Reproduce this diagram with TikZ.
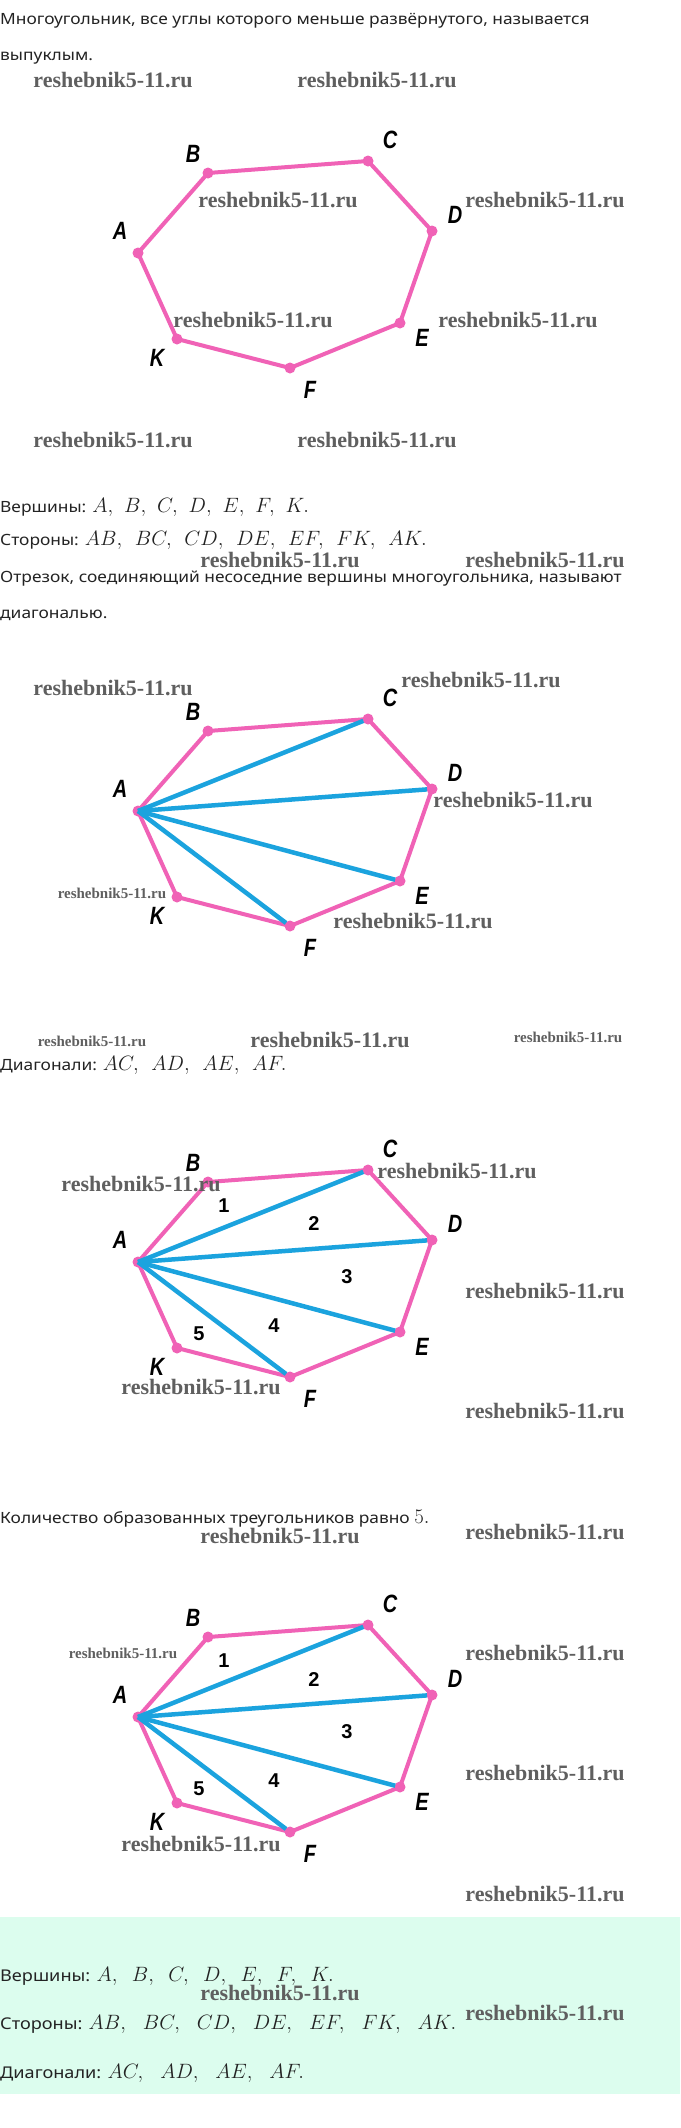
\documentclass[tikz,border=0pt]{standalone}
\usepackage{fontspec}
\setmainfont{Noto Sans}[FakeStretch=1.12]
\newfontfamily\wmfont{Liberation Serif}
\newfontfamily\labfont{Liberation Sans}
\definecolor{pinkc}{RGB}{240,98,182}
\definecolor{bluec}{RGB}{27,163,222}
\definecolor{mint}{RGB}{220,253,238}
\definecolor{wmgray}{RGB}{95,95,95}
\definecolor{txtc}{RGB}{35,35,35}
\newcommand\gpa{\mskip 6.5mu}
\newcommand\gpb{\mskip 8mu}
\newcommand\gpc{\mskip 9.5mu}
\newcommand\gpd{\mskip 11.7mu}
\newcommand\mth[2]{{\fontsize{#1}{#1}\selectfont$#2$}}
\newcommand\lb[1]{\scalebox{0.8}[1]{#1}}
\tikzset{
 txt/.style={anchor=base west, inner sep=0pt, text=txtc, font=\fontsize{15.5}{18}\selectfont},
 txtb/.style={anchor=base west, inner sep=0pt, text=txtc, font=\fontsize{16.2}{18}\selectfont},
 wm/.style={anchor=base, inner sep=0pt, text=wmgray, font=\wmfont\bfseries\fontsize{22}{22}\selectfont},
 wms/.style={anchor=base, inner sep=0pt, text=wmgray, font=\wmfont\bfseries\fontsize{15}{15}\selectfont},
 side/.style={draw=pinkc, line width=4pt, line join=round},
 diag/.style={draw=bluec, line width=4.5pt, shorten >=5pt},
 vdot/.style={fill=pinkc},
 lab/.style={inner sep=0pt, font=\labfont\bfseries\itshape\fontsize{25}{25}\selectfont},
 num/.style={inner sep=0pt, font=\labfont\bfseries\fontsize{20}{20}\selectfont},
}
\newcommand\poly[2]{%
\begin{scope}[yshift=-#2pt]
 \coordinate (#1A) at (138,253);
 \coordinate (#1B) at (208,173);
 \coordinate (#1C) at (368,161);
 \coordinate (#1D) at (432,231);
 \coordinate (#1E) at (400,323);
 \coordinate (#1F) at (290,368);
 \coordinate (#1K) at (177,339);
 \node[lab] (#1lA) at (120,231) {\lb{A}};
 \node[lab] (#1lB) at (193,154) {\lb{B}};
 \node[lab] (#1lC) at (390,140) {\lb{C}};
 \node[lab] (#1lD) at (455,215) {\lb{D}};
 \node[lab] (#1lE) at (422,338) {\lb{E}};
 \node[lab] (#1lF) at (310,390) {\lb{F}};
 \node[lab] (#1lK) at (157,358) {\lb{K}};
\end{scope}
\draw[side] (#1A) -- (#1B) -- (#1C) -- (#1D) -- (#1E) -- (#1F) -- (#1K) -- cycle;
\foreach \v in {A,B,C,D,E,F,K} \fill[vdot] (#1\v) circle (5.5pt);
}
\newcommand\diags[1]{%
\draw[diag] (#1A) -- (#1C);
\draw[diag] (#1A) -- (#1D);
\draw[diag] (#1A) -- (#1E);
\draw[diag] (#1A) -- (#1F);
}
\newcommand\nums[2]{%
\begin{scope}[yshift=-#2pt]
 \node[num] (#1n1) at (224,197) {1};
 \node[num] (#1n2) at (314,215) {2};
 \node[num] (#1n3) at (347,268) {3};
 \node[num] (#1n4) at (274,317) {4};
 \node[num] (#1n5) at (199,325) {5};
\end{scope}}
\begin{document}
\begin{tikzpicture}[x=1pt,y=-1pt]
\useasboundingbox (0,0) rectangle (680,2128);
\fill[white] (0,0) rectangle (680,2128);
\fill[mint] (0,1917) rectangle (680,2094);

% texts
\node[txt] (t1) at (0,24) {Многоугольник, все углы которого меньше развёрнутого, называется};
\node[txt] (t2) at (0,60) {выпуклым.};
\node[txt] (t3) at (0,512) {Вершины: \mth{19.5}{A,\gpa B,\gpa C,\gpa D,\gpa E,\gpa F,\gpa K.}};
\node[txt] (t4) at (0,545) {Стороны: \mth{19.5}{AB,\gpb BC,\gpb CD,\gpb DE,\gpb EF,\gpb FK,\gpb AK.}};
\node[txt] (t5) at (0,582) {Отрезок, соединяющий несоседние вершины многоугольника, называют};
\node[txt] (t6) at (0,618) {диагональю.};
\node[txt] (t7) at (0,1070) {Диагонали: \mth{19.5}{AC,\gpb AD,\gpb AE,\gpb AF.}};
\node[txt] (t8) at (0,1523) {Количество образованных треугольников равно \mth{19.5}{5.}};
\node[txtb] (t9) at (0,1981) {Вершины: \mth{22.3}{A,\gpc B,\gpc C,\gpc D,\gpc E,\gpc F,\gpc K.}};
\node[txtb] (t10) at (0,2029) {Стороны: \mth{22.3}{AB,\gpd BC,\gpd CD,\gpd DE,\gpd EF,\gpd FK,\gpd AK.}};
\node[txtb] (t11) at (0,2078) {Диагонали: \mth{22.3}{AC,\gpd AD,\gpd AE,\gpd AF.}};

% polygons
\poly{p}{0}
\poly{q}{558}
\diags{q}
\poly{r}{1009}
\diags{r}
\nums{r}{1009}
\poly{s}{1464}
\diags{s}
\nums{s}{1464}

% watermarks
\foreach \x/\y [count=\i] in {113/87,377/87,278/207,545/207,253/327,518/327,113/447,377/447,
  280/567,545/567,113/695,481/687,513/807,413/928,
  330/1047,141/1191,457/1178,545/1298,201/1394,545/1418,
  280/1543,545/1539,545/1660,545/1780,201/1851,545/1901,280/2000,545/2020}
  \node[wm] (w\i) at (\x,\y) {reshebnik5-11.ru};
\foreach \x/\y [count=\i] in {112/898,92/1046,568/1042,123/1658}
  \node[wms] (ws\i) at (\x,\y) {reshebnik5-11.ru};
\end{tikzpicture}
\end{document}
